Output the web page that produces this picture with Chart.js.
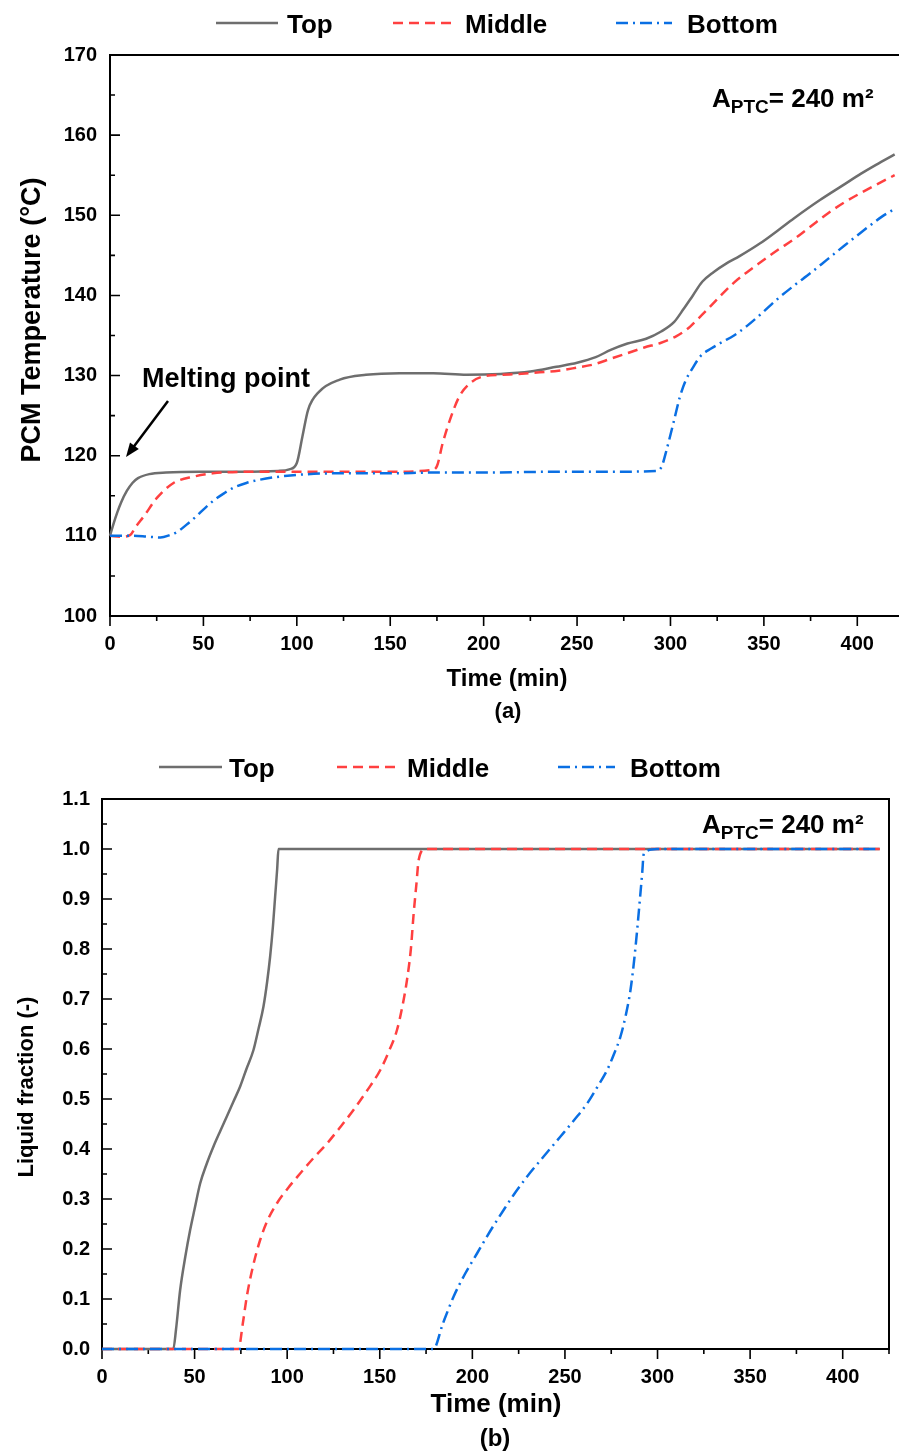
<!DOCTYPE html>
<html>
<head>
<meta charset="utf-8">
<title>PCM temperature and liquid fraction</title>
<script src="https://cdn.jsdelivr.net/npm/chart.js@4.4.0/dist/chart.umd.min.js"></script>
<style>
  html, body { margin: 0; padding: 0; background: #fff; overflow: hidden; }
  body { width: 899px; height: 1456px; position: relative; }
  #tempChart { position: absolute; left: 0; top: 0; }
  #fractionChart { position: absolute; left: 0; top: 730px; }
</style>
</head>
<body>
<canvas id="tempChart" width="910" height="730"></canvas>
<canvas id="fractionChart" width="899" height="726"></canvas>
<script>
// ---- (a) PCM temperature (°C) vs time (min) ----
const tempTopTime = [0, 2, 4, 6, 9, 12, 15, 21, 30, 48, 70, 90, 96, 100, 103, 106, 112, 123, 137, 155, 173, 191, 209, 225, 239, 250, 260, 268, 277, 287, 295, 302, 307, 312, 317, 323, 330, 337, 348, 358, 366, 380, 392, 402, 410, 420];
const tempTopVal = [110.0, 111.6, 113.0, 114.2, 115.6, 116.6, 117.2, 117.7, 117.9, 118.0, 118.0, 118.1, 118.3, 119.1, 122.4, 125.7, 128.0, 129.5, 130.1, 130.3, 130.3, 130.1, 130.2, 130.5, 131.1, 131.6, 132.3, 133.2, 134.0, 134.6, 135.5, 136.7, 138.3, 140.0, 141.7, 142.9, 144.0, 144.9, 146.5, 148.2, 149.6, 151.9, 153.7, 155.2, 156.3, 157.6];

const tempMidTime = [0, 6, 10.7, 14, 18, 25, 34, 45, 55, 80, 120, 150, 172, 175, 178, 182, 187, 193, 200, 210, 218, 230, 240, 250, 259, 268, 277, 286, 295, 303, 309, 314, 320, 327, 334, 341, 348, 357, 366, 375, 384, 393, 402, 410, 420];
const tempMidVal = [110.0, 109.9, 110.1, 111.2, 112.4, 114.7, 116.6, 117.4, 117.8, 118.0, 118.0, 118.0, 118.2, 118.7, 121.5, 124.5, 127.4, 129.1, 129.9, 130.1, 130.2, 130.4, 130.6, 131.0, 131.4, 132.1, 132.8, 133.5, 134.1, 134.9, 135.8, 136.9, 138.3, 140.0, 141.6, 142.9, 144.1, 145.6, 147.0, 148.6, 150.2, 151.6, 152.8, 153.8, 155.0];

const tempBotTime = [0, 12, 20, 27, 32, 36, 41, 46, 51, 56, 61, 66, 73, 80, 95, 120, 150, 173, 200, 240, 270, 292, 295, 298, 302, 305, 308, 312, 316, 322, 327, 334, 341, 349, 357, 366, 375, 384, 393, 405, 413, 420];
const tempBotVal = [110.0, 110.0, 109.9, 109.8, 110.1, 110.5, 111.4, 112.4, 113.5, 114.5, 115.3, 116.0, 116.6, 117.0, 117.5, 117.8, 117.8, 117.9, 117.9, 118.0, 118.0, 118.1, 118.5, 120.8, 124.5, 127.3, 129.3, 131.0, 132.4, 133.4, 134.1, 135.0, 136.2, 137.8, 139.5, 141.2, 142.8, 144.5, 146.2, 148.4, 149.8, 150.8];

// ---- (b) Liquid fraction (-) vs time (min) ----
const fracTopTime = [0, 38.5, 40, 42.2, 45, 47.6, 50, 53, 56.5, 60.2, 64, 67.4, 71, 74.6, 78, 81.8, 84.5, 87.2, 89.2, 90.8, 92.3, 93.5, 94.6, 95.3, 420];
const fracTopVal = [0, 0, 0.04, 0.118, 0.185, 0.238, 0.28, 0.331, 0.37, 0.405, 0.437, 0.465, 0.495, 0.525, 0.56, 0.598, 0.64, 0.685, 0.735, 0.785, 0.845, 0.905, 0.96, 1.0, 1.0];

const fracMidTime = [0, 73.7, 76, 78.2, 81.5, 85.4, 89.5, 94.4, 100.5, 107, 114, 121.5, 128.5, 135.8, 143, 150.3, 155, 159.3, 162.2, 164.7, 166.8, 168.3, 169.8, 171, 174.6, 420];
const fracMidVal = [0, 0, 0.05, 0.105, 0.165, 0.218, 0.258, 0.291, 0.322, 0.351, 0.381, 0.411, 0.443, 0.478, 0.516, 0.558, 0.596, 0.638, 0.685, 0.738, 0.80, 0.871, 0.93, 0.978, 1.0, 1.0];

const fracBotTime = [0, 179, 184, 189.9, 196, 202.5, 209.5, 216.9, 223, 229.6, 238.5, 247.6, 255, 262, 267.5, 272.8, 276.5, 280, 283, 285.4, 287.3, 289, 290.5, 291.7, 292.6, 299.8, 420];
const fracBotVal = [0, 0, 0.05, 0.105, 0.15, 0.191, 0.235, 0.278, 0.312, 0.345, 0.385, 0.425, 0.458, 0.491, 0.524, 0.558, 0.59, 0.625, 0.67, 0.718, 0.775, 0.838, 0.9, 0.951, 0.991, 1.0, 1.0];

// axis ticks
const timeTicks = [0, 50, 100, 150, 200, 250, 300, 350, 400];
const tempTicks = [100, 110, 120, 130, 140, 150, 160, 170];
const fracTicks = [0, 0.1, 0.2, 0.3, 0.4, 0.5, 0.6, 0.7, 0.8, 0.9, 1.0, 1.1];

const seriesNames = ['Top', 'Middle', 'Bottom'];

const seriesStyles = [
    { color: '#6e6e6e', dash: [] },
    { color: '#ff4040', dash: [10, 6] },
    { color: '#0a6fe3', dash: [12, 5, 2, 5] }
];

const FONT = "'Liberation Sans', Arial, sans-serif";
Chart.defaults.font.family = FONT;
Chart.defaults.font.weight = 'bold';
Chart.defaults.color = '#000';

function buildDatasets(times, values) {
    return seriesNames.map((name, i) => ({
        label: name,
        data: times[i].map((t, k) => ({ x: t, y: values[i][k] })),
        borderColor: seriesStyles[i].color,
        borderWidth: 2.5,
        borderDash: seriesStyles[i].dash,
        pointRadius: 0,
        fill: false,
        cubicInterpolationMode: 'monotone',
        order: 3 - i,   // bottom series painted last
        clip: 4
    }));
}

function fixedTicks(values) {
    return function(scale) {
        scale.ticks = values.map(v => ({ value: v }));
    };
}

// frame, inward/outward tick marks
function drawFrame(chart, opts) {
    const { ctx, chartArea: a, scales } = chart;
    ctx.save();
    ctx.strokeStyle = '#000';
    ctx.lineWidth = 2;
    ctx.strokeRect(a.left, a.top, a.right - a.left, a.bottom - a.top);

    const xMajor = opts.xTicks;
    const yMajor = opts.yTicks;
    const mids = arr => arr.slice(1).map((v, i) => (v + arr[i]) / 2)
        .concat([arr[arr.length - 1] + (arr[1] - arr[0]) / 2]);

    ctx.lineWidth = 1.6;
    ctx.beginPath();
    xMajor.forEach(v => {
        const px = scales.x.getPixelForValue(v);
        ctx.moveTo(px, a.bottom); ctx.lineTo(px, a.bottom + 10);
    });
    mids(xMajor).forEach(v => {
        if (v > scales.x.max) return;
        const px = scales.x.getPixelForValue(v);
        ctx.moveTo(px, a.bottom); ctx.lineTo(px, a.bottom + 5);
    });
    yMajor.forEach(v => {
        const py = scales.y.getPixelForValue(v);
        ctx.moveTo(a.left, py); ctx.lineTo(a.left + 10, py);
    });
    mids(yMajor).forEach(v => {
        if (v > scales.y.max) return;
        const py = scales.y.getPixelForValue(v);
        ctx.moveTo(a.left, py); ctx.lineTo(a.left + 5, py);
    });
    ctx.stroke();
    ctx.restore();
}

function drawLegend(chart, items) {
    const { ctx } = chart;
    ctx.save();
    chart.data.datasets.forEach((ds, i) => {
        const it = items.entries[i];
        ctx.strokeStyle = ds.borderColor;
        ctx.lineWidth = ds.borderWidth;
        ctx.setLineDash(ds.borderDash);
        ctx.beginPath();
        ctx.moveTo(it[0], items.lineY);
        ctx.lineTo(it[1], items.lineY);
        ctx.stroke();
        ctx.setLineDash([]);
        ctx.fillStyle = '#000';
        ctx.font = 'bold 26px ' + FONT;
        ctx.textAlign = 'left';
        ctx.textBaseline = 'alphabetic';
        ctx.fillText(ds.label, it[2], items.textY);
    });
    ctx.restore();
}

function drawAreaLabel(ctx, x, y) {
    ctx.save();
    ctx.fillStyle = '#000';
    ctx.textAlign = 'left';
    ctx.textBaseline = 'alphabetic';
    ctx.font = 'bold 26px ' + FONT;
    ctx.fillText('A', x, y);
    let cx = x + ctx.measureText('A').width;
    ctx.font = 'bold 19px ' + FONT;
    ctx.fillText('PTC', cx, y + 6);
    cx += ctx.measureText('PTC').width;
    ctx.font = 'bold 26px ' + FONT;
    ctx.fillText('= 240 m²', cx, y);
    ctx.restore();
}

function drawText(ctx, t) {
    ctx.save();
    ctx.fillStyle = '#000';
    ctx.font = 'bold ' + t.size + 'px ' + FONT;
    ctx.textAlign = t.align || 'center';
    ctx.textBaseline = t.baseline || 'middle';
    ctx.translate(t.x, t.y);
    if (t.vertical) ctx.rotate(-Math.PI / 2);
    ctx.fillText(t.text, 0, 0);
    ctx.restore();
}

function drawArrow(ctx, x0, y0, x1, y1) {
    const ang = Math.atan2(y1 - y0, x1 - x0);
    const head = 14, half = 5.5;
    ctx.save();
    ctx.strokeStyle = '#000';
    ctx.fillStyle = '#000';
    ctx.lineWidth = 2.5;
    ctx.beginPath();
    ctx.moveTo(x0, y0);
    ctx.lineTo(x1 - Math.cos(ang) * head * 0.8, y1 - Math.sin(ang) * head * 0.8);
    ctx.stroke();
    ctx.beginPath();
    ctx.moveTo(x1, y1);
    ctx.lineTo(x1 - Math.cos(ang) * head + Math.sin(ang) * half, y1 - Math.sin(ang) * head - Math.cos(ang) * half);
    ctx.lineTo(x1 - Math.cos(ang) * head - Math.sin(ang) * half, y1 - Math.sin(ang) * head + Math.cos(ang) * half);
    ctx.closePath();
    ctx.fill();
    ctx.restore();
}

const figureDecor = {
    id: 'figureDecor',
    beforeDatasetsDraw(chart, args, opts) {
        drawFrame(chart, opts);
    },
    afterDraw(chart, args, opts) {
        const ctx = chart.ctx;
        drawLegend(chart, opts.legend);
        drawAreaLabel(ctx, opts.area.x, opts.area.y);
        opts.texts.forEach(t => drawText(ctx, t));
        if (opts.arrow) drawArrow(ctx, ...opts.arrow);
    }
};

function axisFont() {
    return { size: 20, weight: 'bold', family: FONT };
}

const hiddenGrid = { display: false, drawTicks: false };

// panel (a)
new Chart(document.getElementById('tempChart'), {
    type: 'line',
    data: {
        datasets: buildDatasets([tempTopTime, tempMidTime, tempBotTime], [tempTopVal, tempMidVal, tempBotVal])
    },
    options: {
        responsive: false,
        animation: false,
        layout: { padding: { top: 55, right: 6, bottom: 69, left: 0 } },
        scales: {
            x: {
                type: 'linear',
                min: 0,
                max: 425,
                afterBuildTicks: fixedTicks(timeTicks),
                afterFit: function(scale) { scale.height = 45; },
                grid: hiddenGrid,
                border: { display: false },
                ticks: { padding: 16, font: axisFont(), color: '#000', maxRotation: 0, autoSkip: false, callback: v => String(v) }
            },
            y: {
                type: 'linear',
                min: 100,
                max: 170,
                afterBuildTicks: fixedTicks(tempTicks),
                afterFit: function(scale) { scale.width = 110; },
                grid: hiddenGrid,
                border: { display: false },
                ticks: { padding: 13, font: axisFont(), color: '#000', autoSkip: false, callback: v => String(v) }
            }
        },
        plugins: {
            legend: { display: false },
            tooltip: { enabled: false },
            figureDecor: {
                xTicks: timeTicks,
                yTicks: tempTicks,
                legend: { lineY: 23, textY: 33, entries: [[216, 278, 287], [393, 457, 465], [616, 672, 687]] },
                area: { x: 712, y: 107 },
                texts: [
                    { text: 'Melting point', x: 142, y: 387, size: 27, align: 'left', baseline: 'alphabetic' },
                    { text: 'PCM Temperature (°C)', x: 40, y: 320, size: 27, vertical: true, baseline: 'alphabetic' },
                    { text: 'Time (min)', x: 507, y: 679, size: 24 },
                    { text: '(a)', x: 508, y: 712, size: 22 }
                ],
                arrow: [168, 401, 126, 457]
            }
        }
    },
    plugins: [figureDecor]
});

// panel (b)
new Chart(document.getElementById('fractionChart'), {
    type: 'line',
    data: {
        datasets: buildDatasets([fracTopTime, fracMidTime, fracBotTime], [fracTopVal, fracMidVal, fracBotVal])
    },
    options: {
        responsive: false,
        animation: false,
        layout: { padding: { top: 69, right: 10, bottom: 62, left: 0 } },
        scales: {
            x: {
                type: 'linear',
                min: 0,
                max: 425,
                afterBuildTicks: fixedTicks(timeTicks),
                afterFit: function(scale) { scale.height = 45; },
                grid: hiddenGrid,
                border: { display: false },
                ticks: { padding: 16, font: axisFont(), color: '#000', maxRotation: 0, autoSkip: false, callback: v => String(v) }
            },
            y: {
                type: 'linear',
                min: 0,
                max: 1.1,
                afterBuildTicks: fixedTicks(fracTicks),
                afterFit: function(scale) { scale.width = 102; },
                grid: hiddenGrid,
                border: { display: false },
                ticks: { padding: 12, font: axisFont(), color: '#000', autoSkip: false, callback: v => v.toFixed(1) }
            }
        },
        plugins: {
            legend: { display: false },
            tooltip: { enabled: false },
            figureDecor: {
                xTicks: timeTicks,
                yTicks: fracTicks,
                legend: { lineY: 37, textY: 47, entries: [[159, 222, 229], [337, 399, 407], [558, 615, 630]] },
                area: { x: 702, y: 103 },
                texts: [
                    { text: 'Liquid fraction (-)', x: 33, y: 357, size: 22, vertical: true, baseline: 'alphabetic' },
                    { text: 'Time (min)', x: 496, y: 675, size: 26 },
                    { text: '(b)', x: 495, y: 709, size: 24 }
                ]
            }
        }
    },
    plugins: [figureDecor]
});
</script>
</body>
</html>
